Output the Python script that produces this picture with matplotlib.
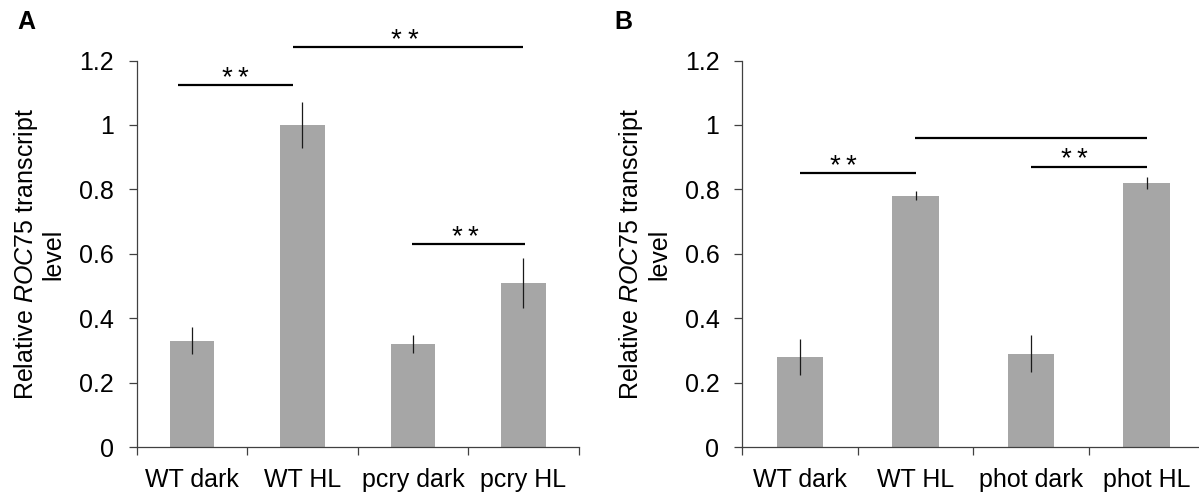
import matplotlib
matplotlib.use("Agg")
import matplotlib.pyplot as plt
from matplotlib.ticker import FuncFormatter, FixedLocator

plt.rcParams['font.family'] = ['Liberation Sans', 'DejaVu Sans']
plt.rcParams['mathtext.fontset'] = 'custom'
plt.rcParams['mathtext.rm'] = 'Liberation Sans'
plt.rcParams['mathtext.it'] = 'Liberation Sans:italic'

# ---- data ----
categories_a = ['WT dark', 'WT HL', 'pcry dark', 'pcry HL']
values_a = [0.33, 1.00, 0.32, 0.51]
errors_a = [0.042, 0.070, 0.028, 0.077]

categories_b = ['WT dark', 'WT HL', 'phot dark', 'phot HL']
values_b = [0.28, 0.78, 0.29, 0.82]
errors_b = [0.056, 0.014, 0.057, 0.020]

# significance brackets: (x start, x end, height, number of stars, label x)
sig_a = [(-0.13, 0.91, 1.124, 2, 0.39),
         (0.915, 3.0, 1.242, 2, 1.92),
         (1.99, 3.01, 0.630, 2, 2.47)]
sig_b = [(0.0, 1.0, 0.851, 2, 0.37),
         (0.995, 3.0, 0.961, 0, None),
         (2.0, 3.0, 0.871, 2, 2.37)]

y_ticks = [0, 0.2, 0.4, 0.6, 0.8, 1.0, 1.2]
ylabel = 'Relative $\\mathit{ROC75}$ transcript\nlevel'

BAR = '#a6a6a6'
AXC = '#404040'
FS = 18

W, H = 1199, 495
fig = plt.figure(figsize=(W / 100, H / 100), dpi=100)


def panel(rect, cats, vals, errs, sigs):
    ax = fig.add_axes(rect)
    x = list(range(len(cats)))
    ax.bar(x, vals, width=0.4, color=BAR, edgecolor='none', zorder=2)
    ax.errorbar(x, vals, yerr=errs, fmt='none', ecolor='#1a1a1a',
                elinewidth=0.9, capsize=0, zorder=3)
    ax.set_xlim(-0.5, len(cats) - 0.5)
    ax.set_ylim(0, 1.2)
    for s in ('top', 'right'):
        ax.spines[s].set_visible(False)
    for s in ('left', 'bottom'):
        ax.spines[s].set_color(AXC)
        ax.spines[s].set_linewidth(0.9)
    ax.set_yticks(y_ticks)
    ax.yaxis.set_major_formatter(FuncFormatter(lambda v, p: f'{v:g}'))
    ax.tick_params(axis='y', direction='out', length=5.5, width=0.9,
                   color=AXC, labelsize=FS, pad=11)
    # boundary ticks on the category axis, labels centred under the bars
    ax.xaxis.set_major_locator(FixedLocator([i - 0.5 for i in range(len(cats) + 1)]))
    ax.xaxis.set_major_formatter(FuncFormatter(lambda v, p: ''))
    ax.xaxis.set_minor_locator(FixedLocator(x))
    ax.set_xticklabels(cats, minor=True)
    ax.tick_params(axis='x', which='major', direction='out', length=5.5,
                   width=0.9, color=AXC)
    ax.tick_params(axis='x', which='minor', length=0, labelsize=FS, pad=15)
    for x0, x1, yv, nstars, lx in sigs:
        ax.plot([x0, x1], [yv, yv], color='black', lw=1.6,
                solid_capstyle='butt', clip_on=False, zorder=4)
        for k in range(nstars):
            dx = (k - (nstars - 1) / 2) * 12.0
            ax.annotate('*', (lx, yv), xytext=(dx, 0), textcoords='offset points',
                        ha='center', va='baseline', fontsize=20,
                        annotation_clip=False)
    return ax


bottom = (H - 447.3) / H
height = (447.3 - 60.5) / H
axA = panel([136.7 / W, bottom, 442 / W, height], categories_a, values_a, errors_a, sig_a)
axB = panel([742.3 / W, bottom, 462 / W, height], categories_b, values_b, errors_b, sig_b)

for lx, tx, lab in ((38.5, 17, 'A'), (644, 614, 'B')):
    fig.text(lx / W, 1 - 254 / H, ylabel, rotation=90, ha='center', va='center',
             fontsize=FS, linespacing=1.1, multialignment='center')
    fig.text(tx / W, 1 - 22 / H, lab, ha='left', va='center',
             fontsize=FS, fontweight='bold')

fig.savefig('out.png', dpi=100)
